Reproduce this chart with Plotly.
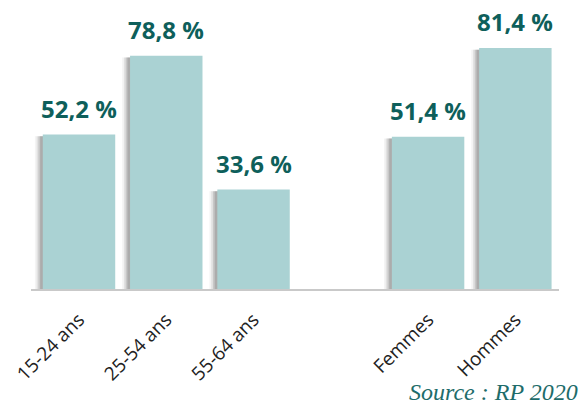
import plotly.graph_objects as go

# Taux d'activité par tranche d'âge et par sexe
categories = ["15-24 ans", "25-54 ans", "55-64 ans", "Femmes", "Hommes"]
positions = [0, 1, 2, 4, 5]          # slot 3 left empty to separate the two groups
values = [52.2, 78.8, 33.6, 51.4, 81.4]

bar_color = "#aad2d3"
label_color = "#0e5f5b"
bar_width = 0.83

fig = go.Figure()

# soft drop shadow on the left edge of each bar
for shift, alpha in [(0.09, 0.08), (0.07, 0.14), (0.05, 0.22), (0.03, 0.30)]:
    fig.add_trace(go.Bar(
        x=positions, y=[v - 0.6 for v in values],
        width=bar_width, offset=-bar_width / 2 - shift,
        marker=dict(color=f"rgba(110,110,110,{alpha})", line=dict(width=0)),
        hoverinfo="skip", showlegend=False,
    ))

fig.add_trace(go.Bar(
    x=positions, y=values,
    width=bar_width, offset=-bar_width / 2,
    marker=dict(color=bar_color, line=dict(width=0)),
    showlegend=False,
))

for xp, v in zip(positions, values):
    fig.add_annotation(
        x=xp, y=v, text=f"{v:.1f} %".replace(".", ","),
        showarrow=False, yanchor="middle", yshift=26, xshift=0,
        font=dict(family="Open Sans", size=24, color=label_color, weight="bold"),
    )

fig.add_annotation(
    xref="paper", yref="paper", x=1.04, y=-0.408, xanchor="right", yanchor="bottom",
    text="<i>Source : RP 2020</i>", showarrow=False,
    font=dict(family="Liberation Serif", size=24, color="#1e6c6a"),
)

fig.update_layout(
    width=583, height=407,
    margin=dict(l=31, r=24, t=0, b=118),
    paper_bgcolor="white", plot_bgcolor="white",
    barmode="overlay",
    xaxis=dict(
        range=[-0.55, 5.5], tickmode="array", tickvals=positions, ticktext=categories,
        tickangle=-45, showgrid=False, zeroline=False,
        showline=True, linecolor="#c9c9c9", linewidth=2,
        ticks="", ticklabelstandoff=10,
        tickfont=dict(family="Open Sans", size=19, color="#222222"),
    ),
    yaxis=dict(range=[0, 97.6], visible=False, showgrid=False, zeroline=False),
)

fig.write_html("out.html")
